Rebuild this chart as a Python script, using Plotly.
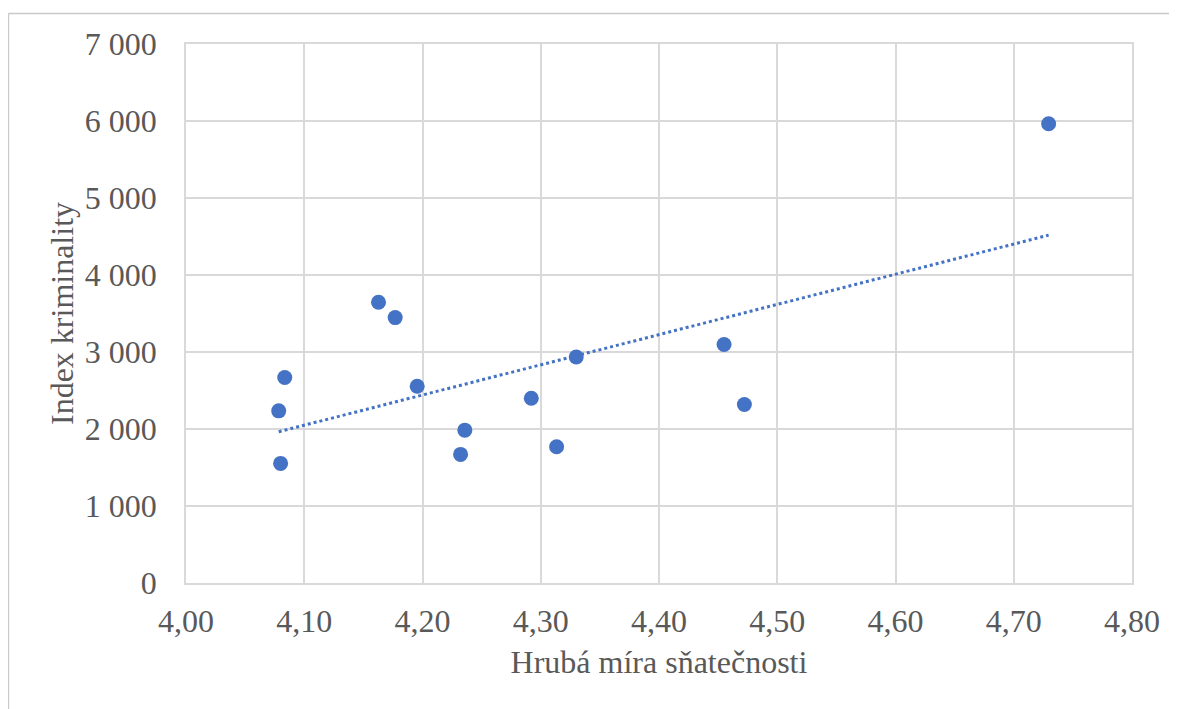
import numpy as np
import plotly.graph_objects as go

# Data
marriage_rate = [4.0835, 4.0784, 4.0800, 4.1628, 4.1769, 4.1955, 4.2358, 4.2322,
                 4.2920, 4.3134, 4.3300, 4.4550, 4.4722, 4.7295]
crime_index = [2669, 2236, 1553, 3646, 3447, 2556, 1985, 1670,
               2400, 1769, 2936, 3097, 2319, 5965]

x_title = "Hrubá míra sňatečnosti"
y_title = "Index kriminality"

W, H = 1177, 709
ML, MR, MT, MB = 178.3, 53.3, 35.5, 134

BLUE = "#4472C4"
GRID = "#d9d9d9"
TXT = "#595959"
FONT = "Liberation Serif, Times New Roman, serif"
FS = 32

# linear trendline (least squares) over data range
slope, intercept = np.polyfit(marriage_rate, crime_index, 1)
tx = [min(marriage_rate), max(marriage_rate)]
ty = [slope * v + intercept for v in tx]

fig = go.Figure()
fig.add_trace(go.Scatter(x=tx, y=ty, mode="lines",
                         line=dict(color=BLUE, width=3, dash="dot"),
                         hoverinfo="skip", showlegend=False))
fig.add_trace(go.Scatter(x=marriage_rate, y=crime_index, mode="markers",
                         marker=dict(color=BLUE, size=15, line=dict(width=0)),
                         showlegend=False))

pw = W - ML - MR
ph = H - MT - MB
fx = (0.8 - ML) / pw
fy = (H - MB - 5) / ph
fig.add_shape(type="line", xref="paper", yref="paper", x0=fx, x1=1.2, y0=fy, y1=fy,
              line=dict(color="#c8c8c8", width=1.5))
fig.add_shape(type="line", xref="paper", yref="paper", x0=fx, x1=fx, y0=-0.5, y1=fy,
              line=dict(color="#c8c8c8", width=1.5))

fig.update_layout(
    width=W, height=H,
    margin=dict(l=ML, r=MR, t=MT, b=MB, autoexpand=False),
    paper_bgcolor="white", plot_bgcolor="white",
    separators=", ",
    font=dict(family=FONT, color=TXT, size=FS),
    xaxis=dict(range=[4.0, 4.8], dtick=0.1, tick0=4.0, tickformat=".2f",
               showgrid=True, gridcolor=GRID, gridwidth=1.5,
               showline=True, mirror=True, linecolor=GRID, linewidth=1.5,
               zeroline=False, ticks="", ticklabelstandoff=9,
               tickfont=dict(size=FS, color=TXT, family=FONT),
               title=dict(text=x_title, font=dict(size=FS, color=TXT, family=FONT), standoff=12)),
    yaxis=dict(range=[0, 7000], dtick=1000, tickformat=",d",
               showgrid=True, gridcolor=GRID, gridwidth=1.5,
               showline=True, mirror=True, linecolor=GRID, linewidth=1.5,
               zeroline=False, ticks="", ticklabelstandoff=21,
               tickfont=dict(size=FS, color=TXT, family=FONT),
               title=dict(text=y_title, font=dict(size=FS, color=TXT, family=FONT), standoff=2)),
)

fig.write_html("out.html")
